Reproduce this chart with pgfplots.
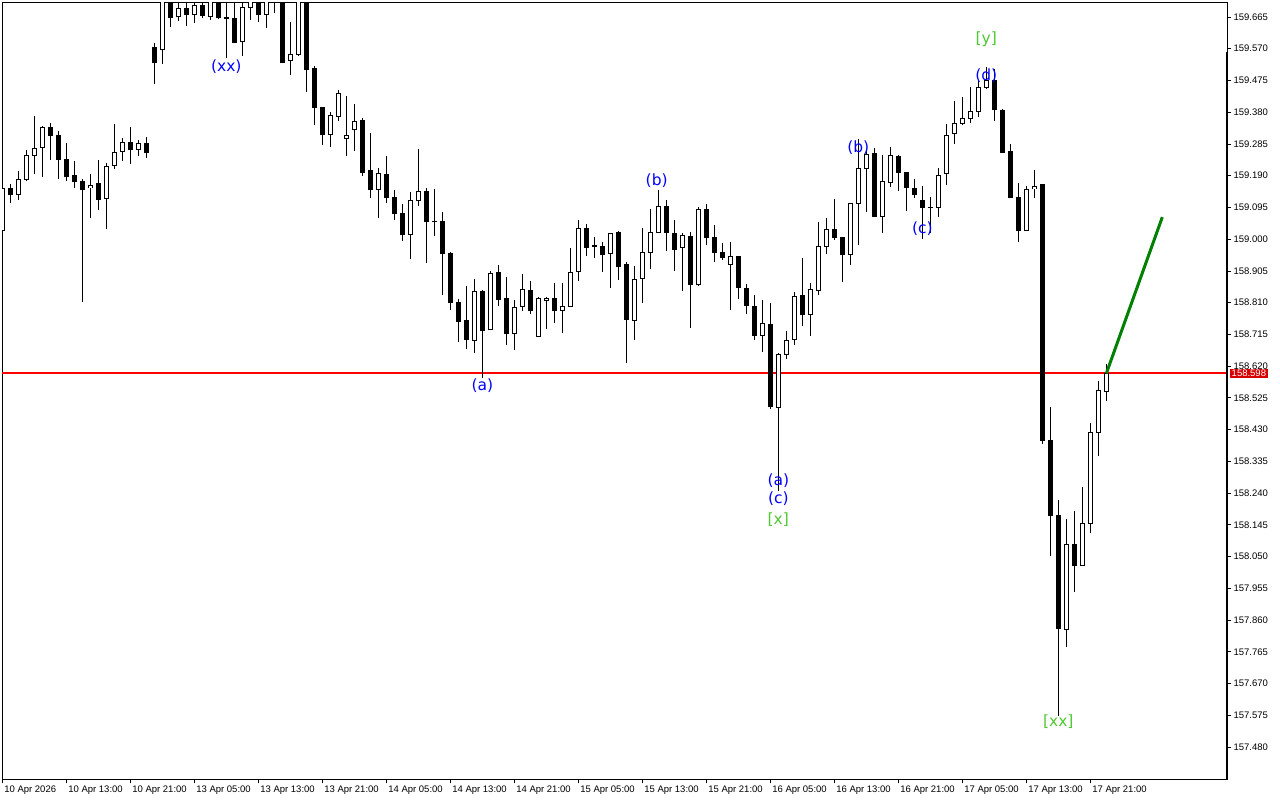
\documentclass[border=0pt]{standalone}
\usepackage{pgfplots}
\pgfplotsset{compat=1.18}
\usepackage{pgfplotstable}
\usepackage{fontspec}
\setmainfont{Liberation Sans}
\newfontfamily\labfont{DejaVu Sans}
\definecolor{wavegreen}{RGB}{80,200,50}
\definecolor{linegreen}{RGB}{0,128,0}
\definecolor{tagred}{RGB}{215,0,0}
\definecolor{bidred}{RGB}{255,0,0}

\pgfplotstableread{
i o h l c
0 159.025 159.160 159.020 159.152
1 159.152 159.168 159.111 159.134
2 159.134 159.207 159.118 159.179
3 159.179 159.266 159.175 159.251
4 159.251 159.369 159.196 159.272
5 159.275 159.339 159.187 159.335
6 159.335 159.348 159.238 159.311
7 159.311 159.324 159.181 159.238
8 159.239 159.287 159.174 159.190
9 159.191 159.234 159.154 159.172
10 159.173 159.182 158.813 159.148
11 159.155 159.197 159.064 159.161
12 159.167 159.237 159.088 159.118
13 159.124 159.227 159.029 159.218
14 159.221 159.345 159.211 159.260
15 159.263 159.303 159.235 159.290
16 159.290 159.336 159.226 159.269
17 159.269 159.296 159.250 159.287
18 159.287 159.306 159.244 159.259
19 159.574 159.589 159.465 159.530
20 159.568 159.760 159.525 159.740
21 159.740 159.760 159.636 159.663
22 159.667 159.708 159.654 159.692
23 159.692 159.708 159.639 159.673
24 159.673 159.708 159.648 159.700
25 159.700 159.710 159.664 159.670
26 159.667 159.730 159.655 159.715
27 159.715 159.730 159.660 159.664
28 159.663 159.720 159.543 159.663
29 159.661 159.720 159.589 159.591
30 159.591 159.720 159.549 159.694
31 159.694 159.740 159.657 159.730
32 159.730 159.750 159.650 159.673
33 159.673 159.750 159.633 159.730
34 159.730 159.760 159.678 159.740
35 159.740 159.760 159.529 159.531
36 159.536 159.650 159.492 159.553
37 159.553 159.760 159.550 159.740
38 159.740 159.760 159.439 159.510
39 159.512 159.520 159.343 159.394
40 159.395 159.397 159.283 159.313
41 159.313 159.380 159.277 159.371
42 159.367 159.445 159.355 159.437
43 159.302 159.429 159.250 159.311
44 159.329 159.405 159.265 159.353
45 159.356 159.363 159.190 159.199
46 159.206 159.320 159.124 159.148
47 159.149 159.215 159.064 159.197
48 159.195 159.249 159.109 159.127
49 159.126 159.149 159.058 159.078
50 159.078 159.105 158.996 159.014
51 159.014 159.140 158.942 159.116
52 159.116 159.270 159.100 159.143
53 159.143 159.155 158.930 159.052
54 159.054 159.152 159.011 159.054
55 159.052 159.081 158.834 158.957
56 158.959 158.961 158.788 158.810
57 158.812 158.821 158.693 158.756
58 158.758 158.861 158.672 158.699
59 158.697 158.884 158.660 158.845
60 158.845 158.848 158.586 158.729
61 158.729 158.906 158.729 158.898
62 158.901 158.921 158.798 158.820
63 158.823 158.887 158.684 158.718
64 158.718 158.820 158.669 158.796
65 158.800 158.896 158.783 158.850
66 158.847 158.875 158.777 158.787
67 158.710 158.828 158.708 158.823
68 158.817 158.828 158.732 158.823
69 158.823 158.869 158.750 158.787
70 158.787 158.869 158.720 158.799
71 158.799 158.975 158.797 158.901
72 158.904 159.058 158.876 159.033
73 159.033 159.045 158.951 158.978
74 158.981 159.006 158.945 158.981
75 158.978 158.992 158.903 158.954
76 158.958 159.020 158.856 159.018
77 159.023 159.025 158.879 158.921
78 158.923 158.931 158.630 158.759
79 158.759 158.920 158.699 158.880
80 158.883 159.034 158.810 158.961
81 158.961 159.090 158.912 159.021
82 159.021 159.147 159.018 159.100
83 159.100 159.116 158.964 159.021
84 159.018 159.057 158.906 158.970
85 158.976 159.021 158.846 159.012
86 159.009 159.021 158.735 158.865
87 158.865 159.097 158.862 159.090
88 159.090 159.107 158.984 159.006
89 159.006 159.042 158.933 158.961
90 158.961 158.988 158.939 158.946
91 158.925 158.991 158.789 158.949
92 158.949 158.950 158.822 158.856
93 158.853 158.868 158.777 158.802
94 158.799 158.835 158.699 158.714
95 158.714 158.820 158.663 158.748
96 158.745 158.808 158.493 158.499
97 158.497 158.660 158.249 158.656
98 158.654 158.727 158.642 158.697
99 158.700 158.841 158.684 158.828
100 158.831 158.946 158.741 158.775
101 158.775 158.871 158.711 158.850
102 158.847 159.054 158.835 158.979
103 158.979 159.063 158.955 159.030
104 159.030 159.122 158.997 159.006
105 159.006 159.008 158.873 158.955
106 158.955 159.108 158.924 159.107
107 159.107 159.299 158.982 159.212
108 159.212 159.269 159.084 159.254
109 159.257 159.275 159.068 159.069
110 159.069 159.254 159.018 159.173
111 159.170 159.275 159.155 159.251
112 159.248 159.251 159.146 159.200
113 159.200 159.201 159.084 159.155
114 159.152 159.182 159.125 159.134
115 159.116 159.161 159.002 159.094
116 159.097 159.127 159.020 159.097
117 159.096 159.214 159.067 159.191
118 159.196 159.347 159.163 159.311
119 159.317 159.415 159.286 159.347
120 159.347 159.428 159.343 159.362
121 159.362 159.458 159.349 159.383
122 159.383 159.476 159.367 159.455
123 159.455 159.515 159.449 159.476
124 159.474 159.510 159.355 159.389
125 159.387 159.389 159.261 159.262
126 159.263 159.287 159.123 159.124
127 159.125 159.170 158.993 159.027
128 159.027 159.161 159.026 159.149
129 159.152 159.209 159.124 159.158
130 159.165 159.167 158.388 158.397
131 158.398 158.498 158.052 158.173
132 158.173 158.219 157.573 157.834
133 157.834 158.161 157.779 158.086
134 158.086 158.187 157.945 158.024
135 158.024 158.261 158.022 158.149
136 158.149 158.451 158.121 158.422
137 158.422 158.574 158.351 158.546
138 158.546 158.627 158.517 158.598
}\candles

\begin{document}
\begin{tikzpicture}
\fill[white] (0,0) rectangle (1280pt,800pt);
\begin{axis}[
  at={(2.2pt,20.7pt)}, anchor=south west,
  width=1224.8pt, height=777pt, scale only axis,
  xmin=-0.0125, xmax=153.0875,
  ymin=157.3833, ymax=159.7090,
  axis line style={black, line width=1pt},
  tick align=outside,
  major tick length=4pt,
  tick style={black, line width=0.8pt},
  xtick pos=bottom,
  ytick pos=right,
  yticklabel pos=right,
  xtick={0,8,16,24,32,40,48,56,64,72,80,88,96,104,112,120,128,136},
  xticklabels={10 Apr 2026,10 Apr 13:00,10 Apr 21:00,13 Apr 05:00,13 Apr 13:00,13 Apr 21:00,14 Apr 05:00,14 Apr 13:00,14 Apr 21:00,15 Apr 05:00,15 Apr 13:00,15 Apr 21:00,16 Apr 05:00,16 Apr 13:00,16 Apr 21:00,17 Apr 05:00,17 Apr 13:00,17 Apr 21:00},
  ytick={157.480,157.575,157.670,157.765,157.860,157.955,158.050,158.145,158.240,158.335,158.430,158.525,158.620,158.715,158.810,158.905,159.000,159.095,159.190,159.285,159.380,159.475,159.570,159.665},
  yticklabels={157.480,157.575,157.670,157.765,157.860,157.955,158.050,158.145,158.240,158.335,158.430,158.525,158.620,158.715,158.810,158.905,159.000,159.095,159.190,159.285,159.380,159.475,159.570,159.665},
  xticklabel style={anchor=north west, xshift=-1.5pt, yshift=1pt, font=\fontsize{9.5}{10}\selectfont},
  yticklabel style={anchor=west, xshift=-1pt, font=\fontsize{9.5}{10}\selectfont},
  clip=true,
]
% bid line
\addplot[draw=bidred, line width=2pt, mark=none, forget plot] coordinates {(-0.0125,158.598) (153.0875,158.598)};
% wicks
\addplot[draw=none, mark=none, forget plot,
  error bars/.cd, y dir=both, y explicit, error mark=none,
  error bar style={line width=1pt, draw=black, solid}]
  table[x=i, y expr={(\thisrow{h}+\thisrow{l})/2}, y error expr={(\thisrow{h}-\thisrow{l})/2}] {\candles};
% body outline / black bodies
\addplot[draw=none, mark=none, forget plot,
  error bars/.cd, y dir=both, y explicit, error mark=none,
  error bar style={line width=5pt, draw=black, solid}]
  table[x=i, y expr={(\thisrow{o}+\thisrow{c})/2}, y error expr={abs(\thisrow{o}-\thisrow{c})/2+0.0015}] {\candles};
% white fill of rising bodies
\addplot[draw=none, mark=none, forget plot,
  error bars/.cd, y dir=both, y explicit, error mark=none,
  error bar style={line width=3pt, draw=white, solid}]
  table[x=i, y expr={(\thisrow{o}+\thisrow{c})/2}, y error expr={(\thisrow{c}>\thisrow{o}) ? max((\thisrow{c}-\thisrow{o})/2-0.0015,0) : 0}] {\candles};
% projection line
\addplot[draw=linegreen, line width=3pt, mark=none, forget plot] coordinates {(138,158.598) (145,159.066)};
\coordinate (tag) at (axis cs:153.0875,158.598);
% wave labels
\begin{scope}[every node/.style={font=\labfont\fontsize{15.5}{16}\selectfont, inner sep=0pt}]
\node[text=blue] at (axis cs:28,159.515) {(xx)};
\node[text=blue] at (axis cs:60,158.561) {(a)};
\node[text=blue] at (axis cs:81.8,159.174) {(b)};
\node[text=blue] at (axis cs:97,158.276) {(a)};
\node[text=blue] at (axis cs:97,158.222) {(c)};
\node[text=wavegreen] at (axis cs:97,158.162) {[x]};
\node[text=blue] at (axis cs:107,159.273) {(b)};
\node[text=blue] at (axis cs:115,159.031) {(c)};
\node[text=wavegreen] at (axis cs:123,159.599) {[y]};
\node[text=blue] at (axis cs:123,159.488) {(d)};
\node[text=wavegreen] at (axis cs:132,157.555) {[xx]};
\end{scope}
\end{axis}
\draw[black, line width=2.6pt] (1227pt,748.3pt) -- (1227pt,20.2pt);
\node[fill=tagred, text=white, anchor=west, inner xsep=1.5pt, inner ysep=1.2pt, font=\fontsize{9.5}{10}\selectfont, xshift=3pt] at (tag) {158.598};
\pgfresetboundingbox
\useasboundingbox (0,0) rectangle (1280pt,800pt);
\end{tikzpicture}
\end{document}
